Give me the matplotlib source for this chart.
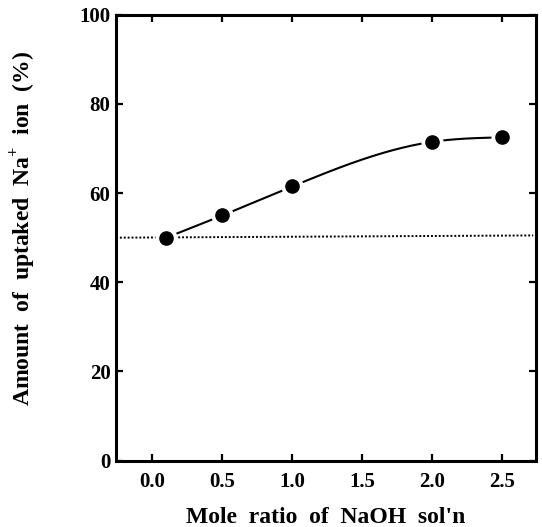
import numpy as np
import matplotlib
matplotlib.use("Agg")
import matplotlib.pyplot as plt

# measured uptake of Na+ versus NaOH mole ratio
mole_ratio = [0.1, 0.5, 1.0, 2.0, 2.5]
uptake_pct = [50.0, 55.0, 61.5, 71.5, 72.5]

# reference level (dotted)
ref_x = [-0.26, 2.72]
ref_y = [50.0, 50.5]

x_ticks = [0.0, 0.5, 1.0, 1.5, 2.0, 2.5]
x_ticklabels = ["0.0", "0.5", "1.0", "1.5", "2.0", "2.5"]
y_ticks = [0, 20, 40, 60, 80, 100]
y_ticklabels = ["0", "20", "40", "60", "80", "100"]


def natural_spline(xs, ys, xq):
    xs = np.asarray(xs, float)
    ys = np.asarray(ys, float)
    n = len(xs)
    h = np.diff(xs)
    A = np.zeros((n, n))
    b = np.zeros(n)
    A[0, 0] = A[-1, -1] = 1.0
    for i in range(1, n - 1):
        A[i, i - 1] = h[i - 1]
        A[i, i] = 2 * (h[i - 1] + h[i])
        A[i, i + 1] = h[i]
        b[i] = 6 * ((ys[i + 1] - ys[i]) / h[i] - (ys[i] - ys[i - 1]) / h[i - 1])
    M = np.linalg.solve(A, b)
    idx = np.clip(np.searchsorted(xs, xq) - 1, 0, n - 2)
    x0, x1 = xs[idx], xs[idx + 1]
    hh = x1 - x0
    t0, t1 = x1 - xq, xq - x0
    return (M[idx] * t0 ** 3 / (6 * hh) + M[idx + 1] * t1 ** 3 / (6 * hh)
            + (ys[idx] / hh - M[idx] * hh / 6) * t0
            + (ys[idx + 1] / hh - M[idx + 1] * hh / 6) * t1)


plt.rcParams["font.family"] = ["Liberation Serif", "DejaVu Serif"]
plt.rcParams["font.weight"] = "bold"
plt.rcParams["mathtext.fontset"] = "custom"
plt.rcParams["mathtext.rm"] = "Liberation Serif:bold"
plt.rcParams["mathtext.bf"] = "Liberation Serif:bold"

fig = plt.figure(figsize=(5.42, 5.27), dpi=100)
ax = fig.add_axes([0.214, 0.126, 0.775, 0.846])

xs_fine = np.linspace(mole_ratio[0], mole_ratio[-1], 300)
ax.plot(xs_fine, natural_spline(mole_ratio, uptake_pct, xs_fine),
        color="black", lw=1.5, zorder=2)
ax.plot(ref_x, ref_y, color="black", lw=1.4, linestyle=(0, (1, 1.0)), zorder=1)
ax.plot(mole_ratio, uptake_pct, "o", ms=15, color="white", zorder=3)
ax.plot(mole_ratio, uptake_pct, "o", ms=9.5, color="black", zorder=4)

ax.set_xlim(-0.26, 2.74)
ax.set_ylim(0, 100)
ax.set_xticks(x_ticks, x_ticklabels)
ax.set_yticks(y_ticks, y_ticklabels)

for s in ax.spines.values():
    s.set_linewidth(2.2)
ax.tick_params(direction="in", length=5, width=1.6, top=True, right=True,
               labelsize=15)
ax.tick_params(axis="x", pad=8)
ax.tick_params(axis="y", pad=4)

ax.set_xlabel("Mole  ratio  of  NaOH  sol'n", fontsize=17, fontweight="bold")
ax.xaxis.set_label_coords(0.5, -0.105)
ax.set_ylabel(r"Amount  of  uptaked  Na$^{+}$  ion  (%)", fontsize=17,
              fontweight="bold")
ax.yaxis.set_label_coords(-0.185, 0.52)

fig.savefig("out.png", dpi=100)
